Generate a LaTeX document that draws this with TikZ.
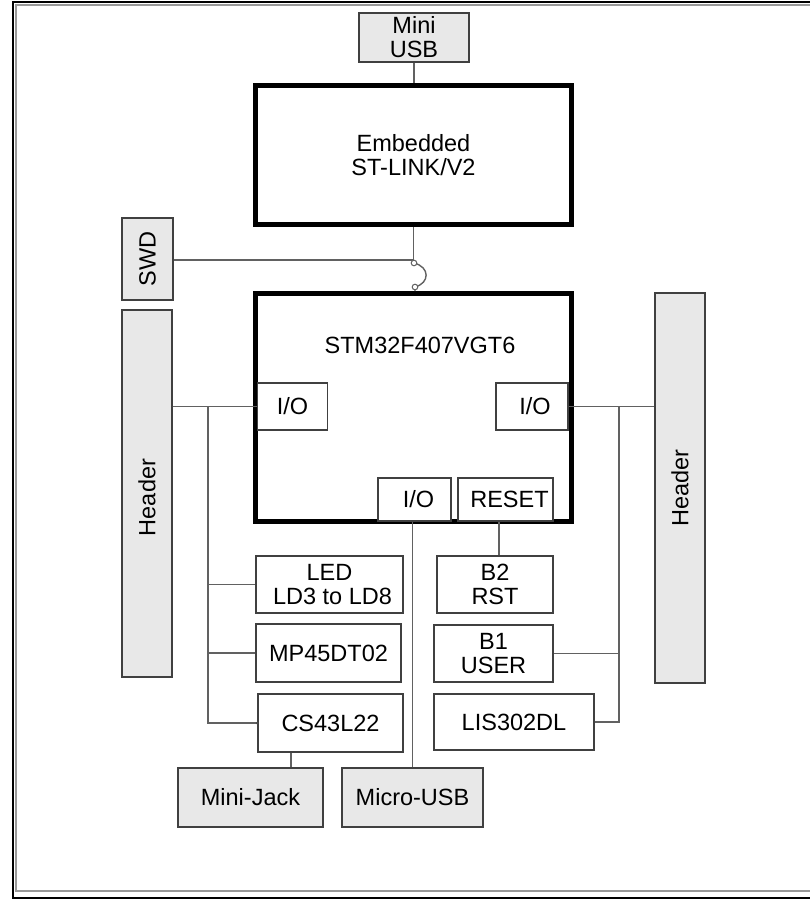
\documentclass[tikz,border=0pt]{standalone}
\usepackage{fontspec}
\setmainfont{Liberation Sans}
\begin{document}
\begin{tikzpicture}[x=1pt,y=-1pt,
  every node/.style={font=\fontsize{23.5}{24}\selectfont, align=center, inner sep=0pt, text=black},
  boldbox/.style={draw=black, line width=5pt, fill=white},
  wbox/.style={draw=black!75, line width=1.3pt, fill=white},
  gbox/.style={draw=black!75, line width=1.3pt, fill=black!9},
  wire/.style={draw=black!62, line width=1.4pt},
  hop/.style={draw=black!62, line width=1pt, fill=white},
]
\useasboundingbox (0,0) rectangle (810,900);
% outer frame (open on the right)
\draw[black, line width=2pt] (815,2) -- (13,2) -- (13,898) -- (815,898);
\draw[black!40, line width=2pt] (815,5) -- (16,5) -- (16,891) -- (815,891);

% top part
\node[gbox, minimum width=110pt, minimum height=49pt] (miniusb) at (414,37.5)
  {\fontsize{23.5}{23}\selectfont Mini\\USB};
\node[boldbox, minimum width=316pt, minimum height=139pt] (stlink) at (413.5,155)
  {\fontsize{23.5}{28}\selectfont Embedded\\ST-LINK/V2};
\node[gbox, minimum width=51pt, minimum height=82pt] (swd) at (147.5,259) {\rotatebox{90}{SWD}};

% MCU
\node[boldbox, minimum width=316pt, minimum height=228pt] (stm) at (413.5,407.5) {};
\node (stmlabel) at (420,345.5) {STM32F407VGT6};
\node[wbox, minimum width=70pt, minimum height=47pt] (ioL) at (292.5,406.5) {I/O};
\node[wbox, minimum width=72pt, minimum height=47pt] (ioR) at (532,406.5) {\hspace*{6pt}I/O};
\node[wbox, minimum width=73pt, minimum height=43pt] (ioB) at (414.5,499.5) {\hspace*{8pt}I/O};
\node[wbox, minimum width=95pt, minimum height=43pt] (reset) at (505.5,499.5) {\hspace*{8pt}RESET};

% headers
\node[gbox, minimum width=50pt, minimum height=367pt] (hl) at (147,493.5) {\rotatebox{90}{Header\hspace*{8pt}}};
\node[gbox, minimum width=50pt, minimum height=390pt] (hr) at (680,488) {\rotatebox{90}{Header}};

% peripherals left
\node[wbox, minimum width=147pt, minimum height=57pt] (led) at (329.5,584.5) {LED\\\hspace*{6pt}LD3 to LD8};
\node[wbox, minimum width=145pt, minimum height=58pt] (mp) at (328.5,653) {MP45DT02};
\node[wbox, minimum width=145pt, minimum height=58pt] (cs) at (330.5,723) {CS43L22};
% peripherals right
\node[wbox, minimum width=116pt, minimum height=57pt] (b2) at (495,584.5) {B2\\RST};
\node[wbox, minimum width=119pt, minimum height=57pt] (b1) at (493.5,653.5) {B1\\USER};
\node[wbox, minimum width=160pt, minimum height=56pt] (lis) at (514,722) {LIS302DL};
% connectors bottom
\node[gbox, minimum width=145pt, minimum height=59pt] (minijack) at (250.5,797.5) {Mini-Jack};
\node[gbox, minimum width=141pt, minimum height=59pt] (microusb) at (412.5,797.5) {Micro-USB};

% wires
\draw[wire] (miniusb.south) -- (miniusb.south |- stlink.north);

\coordinate (jt) at (413.5,260);
\coordinate (j1) at (414,263);
\coordinate (j2) at (415,287);
\draw[wire] (stlink.south) -- (jt);
\draw[wire] (swd.east |- jt) -- (jt);
\draw[wire] (jt) -- (j1) .. controls (430,267) and (430,283) .. (j2) -- (j2 |- stm.north);
\draw[hop] (j1) circle[radius=2.8pt];
\draw[hop] (j2) circle[radius=2.8pt];

% left bus
\coordinate (busL) at (208,406.5);
\draw[wire] (hl.east |- ioL.west) -- (ioL.west);
\draw[wire] (busL) |- (cs.west);
\draw[wire] (busL |- led.west) -- (led.west);
\draw[wire] (busL |- mp.west) -- (mp.west);
\fill[black!70] (cs.west) circle[radius=1.6pt];

% right bus
\coordinate (busR) at (619,406.5);
\draw[wire] (ioR.east) -- (hr.west |- ioR.east);
\draw[wire] (busR) |- (lis.east);
\draw[wire] (busR |- b1.east) -- (b1.east);

% vertical links
\draw[wire] (microusb.north) -- (microusb.north |- ioB.south);
\draw[wire] ([xshift=-6.5pt]reset.south) -- ([xshift=-6.5pt]reset.south |- b2.north);
\draw[wire] ([xshift=-39.5pt]cs.south) -- ([xshift=-39.5pt]cs.south |- minijack.north);
\end{tikzpicture}
\end{document}
